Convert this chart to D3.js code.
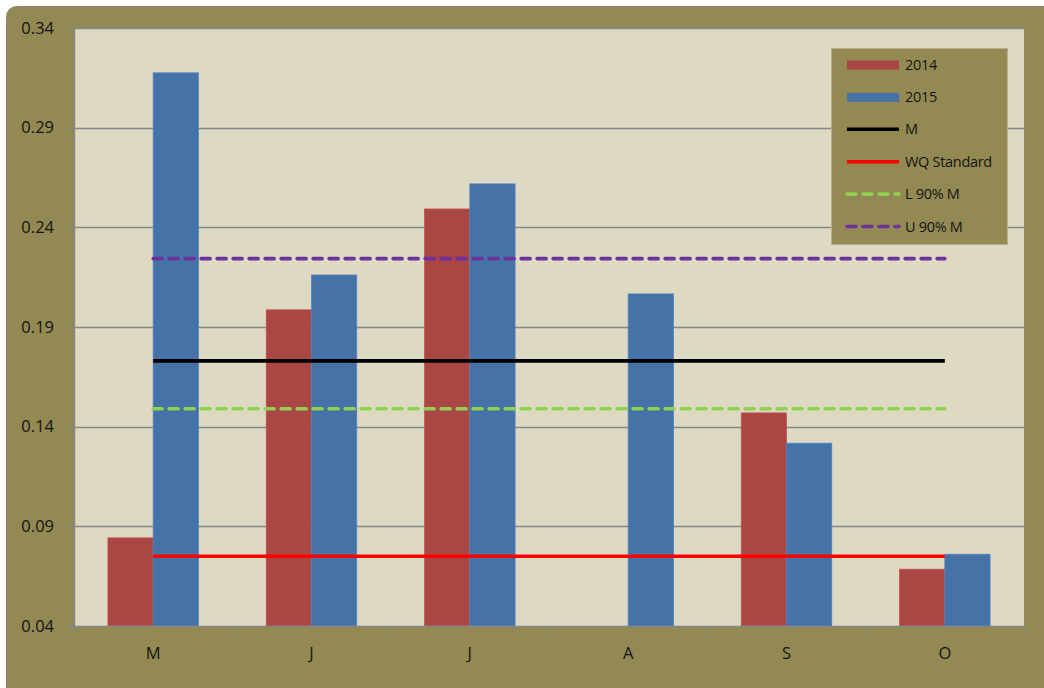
<!DOCTYPE html>
<html>
<head>
<meta charset="utf-8">
<script src="https://cdn.jsdelivr.net/npm/d3@7"></script>
<style>
  html, body { margin: 0; padding: 0; background: #ffffff; }
  svg { display: block; }
  text { font-family: "Open Sans", "Noto Sans", sans-serif; fill: #141414; }
</style>
</head>
<body>
<svg id="chart" width="1044" height="688"></svg>
<script>
// Monthly values (May–October)
const months = ["M", "J", "J", "A", "S", "O"];
const values2014 = [0.0842, 0.1986, 0.2492, null, 0.1469, 0.0685];
const values2015 = [0.3175, 0.2161, 0.2618, 0.2066, 0.1317, 0.0760];

// Reference levels drawn across the season
const meanValue = 0.173;
const wqStandard = 0.075;
const lower90 = 0.149;
const upper90 = 0.2243;

const yTicks = [0.04, 0.09, 0.14, 0.19, 0.24, 0.29, 0.34];

const W = 1044, H = 688;
const plot = { left: 74, right: 1024, top: 28, bottom: 626 };

const svg = d3.select("#chart");

// Olive frame with rounded top-left corner
svg.append("rect")
  .attr("x", 6.5).attr("y", 6.5)
  .attr("width", W + 20).attr("height", H + 20)
  .attr("rx", 10)
  .attr("fill", "#938952")
  .attr("stroke", "#8a8a80").attr("stroke-width", 1);

// Plot area
svg.append("rect")
  .attr("x", plot.left).attr("y", plot.top)
  .attr("width", plot.right - plot.left).attr("height", plot.bottom - plot.top)
  .attr("fill", "#DDD9C3");

const x = d3.scaleBand()
  .domain(d3.range(months.length))
  .range([plot.left, plot.right])
  .paddingInner(0).paddingOuter(0);

const y = d3.scaleLinear()
  .domain([0.04, 0.34])
  .range([plot.bottom, plot.top]);

// Gridlines
svg.append("g")
  .selectAll("line")
  .data(yTicks.slice(1))
  .join("line")
  .attr("x1", plot.left).attr("x2", plot.right)
  .attr("y1", d => Math.round(y(d)) + 0.5).attr("y2", d => Math.round(y(d)) + 0.5)
  .attr("stroke", "#868686").attr("stroke-width", 1.4);

// Bars: two per month, 150% gap width
const band = x.bandwidth();
const barW = band / 3.5;
const gap = band * 1.5 / 3.5;
const series = [
  { values: values2014, color: "#AA4643", offset: 0 },
  { values: values2015, color: "#4572A7", offset: 1 }
];
series.forEach(s => {
  svg.append("g")
    .selectAll("rect")
    .data(s.values.map((v, i) => ({ v, i })).filter(d => d.v != null))
    .join("rect")
    .attr("x", d => x(d.i) + gap / 2 + s.offset * barW)
    .attr("y", d => y(d.v))
    .attr("width", barW)
    .attr("height", d => y(0.04) - y(d.v))
    .attr("fill", s.color)
    .attr("stroke", d3.color(s.color).brighter(0.4))
    .attr("stroke-width", 0.8);
});

// Horizontal reference lines from first to last month centre
const xStart = x(0) + band / 2;
const xEnd = x(months.length - 1) + band / 2;
const refLines = [
  { v: wqStandard, color: "#FF0000", dash: null },
  { v: meanValue, color: "#000000", dash: null },
  { v: lower90, color: "#92D050", dash: "9,7" },
  { v: upper90, color: "#7030A0", dash: "9,7" }
];
svg.append("g")
  .selectAll("line")
  .data(refLines)
  .join("line")
  .attr("x1", xStart).attr("x2", xEnd)
  .attr("y1", d => y(d.v)).attr("y2", d => y(d.v))
  .attr("stroke", d => d.color)
  .attr("stroke-width", 3.6)
  .attr("stroke-linecap", d => d.dash ? "round" : "butt")
  .attr("stroke-dasharray", d => d.dash);

// Axes
const axisColor = "#868686";
svg.append("line")
  .attr("x1", plot.left + 0.5).attr("x2", plot.left + 0.5)
  .attr("y1", plot.top).attr("y2", plot.bottom)
  .attr("stroke", axisColor).attr("stroke-width", 1.4);
svg.append("line")
  .attr("x1", plot.left).attr("x2", plot.right)
  .attr("y1", plot.bottom + 0.5).attr("y2", plot.bottom + 0.5)
  .attr("stroke", axisColor).attr("stroke-width", 1.4);

const yAxis = svg.append("g");
yAxis.selectAll("line")
  .data(yTicks)
  .join("line")
  .attr("x1", plot.left - 7).attr("x2", plot.left)
  .attr("y1", d => Math.round(y(d)) + 0.5).attr("y2", d => Math.round(y(d)) + 0.5)
  .attr("stroke", axisColor).attr("stroke-width", 1.4);
yAxis.selectAll("text")
  .data(yTicks)
  .join("text")
  .attr("x", 54).attr("y", d => y(d))
  .attr("dy", "0.35em")
  .attr("text-anchor", "end")
  .attr("font-size", 16.5)
  .text(d3.format(".2f"));

const xAxis = svg.append("g");
xAxis.selectAll("line")
  .data(d3.range(months.length + 1))
  .join("line")
  .attr("x1", i => Math.round(plot.left + i * band) + 0.5)
  .attr("x2", i => Math.round(plot.left + i * band) + 0.5)
  .attr("y1", plot.bottom).attr("y2", plot.bottom + 7)
  .attr("stroke", axisColor).attr("stroke-width", 1.4);
xAxis.selectAll("text")
  .data(months)
  .join("text")
  .attr("x", (d, i) => x(i) + band / 2)
  .attr("y", 653)
  .attr("dy", "0.35em")
  .attr("text-anchor", "middle")
  .attr("font-size", 16.5)
  .text(d => d);

// Legend
const legend = svg.append("g");
legend.append("rect")
  .attr("x", 831.5).attr("y", 48.5)
  .attr("width", 176).attr("height", 196)
  .attr("fill", "#938952")
  .attr("stroke", "#b5b08a").attr("stroke-width", 1);

const legendItems = [
  { label: "2014", type: "bar", color: "#AA4643" },
  { label: "2015", type: "bar", color: "#4572A7" },
  { label: "M", type: "line", color: "#000000", dash: null },
  { label: "WQ Standard", type: "line", color: "#FF0000", dash: null },
  { label: "L 90% M", type: "line", color: "#92D050", dash: "9,7" },
  { label: "U 90% M", type: "line", color: "#7030A0", dash: "9,7" }
];
const rowY = i => 64.5 + i * 32.4;
const items = legend.selectAll("g")
  .data(legendItems)
  .join("g");
items.filter(d => d.type === "bar")
  .append("rect")
  .attr("x", 847).attr("y", d => rowY(legendItems.indexOf(d)) - 4)
  .attr("width", 52).attr("height", 9)
  .attr("fill", d => d.color);
items.filter(d => d.type === "line")
  .append("line")
  .attr("x1", 847).attr("x2", 899)
  .attr("y1", d => rowY(legendItems.indexOf(d)))
  .attr("y2", d => rowY(legendItems.indexOf(d)))
  .attr("stroke", d => d.color)
  .attr("stroke-width", 3.6)
  .attr("stroke-linecap", d => d.dash ? "round" : "butt")
  .attr("stroke-dasharray", d => d.dash);
items.append("text")
  .attr("x", 905)
  .attr("y", d => rowY(legendItems.indexOf(d)))
  .attr("dy", "0.35em")
  .attr("font-size", 14.5)
  .attr("letter-spacing", -0.3)
  .text(d => d.label);
</script>
</body>
</html>
